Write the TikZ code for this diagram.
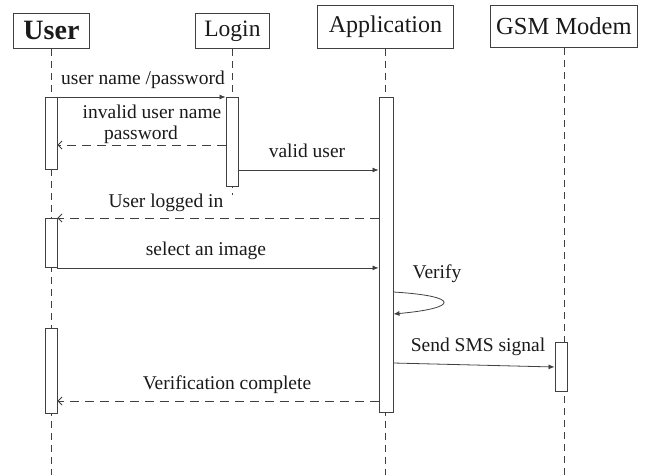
\documentclass[tikz,border=0pt]{standalone}
\usepackage{fontspec}
\setmainfont{Liberation Serif}
\usetikzlibrary{arrows.meta,calc}
\definecolor{ln}{HTML}{404040}
\definecolor{tx}{HTML}{1A1A1A}
\tikzset{
  hdr/.style={draw=ln, line width=0.9pt, fill=white, inner sep=0pt, text=tx, anchor=north west},
  actbox/.style={draw=ln, line width=0.9pt, fill=white, inner sep=0pt, minimum width=12pt, anchor=north},
  lifeline/.style={draw=ln, line width=0.9pt, dash pattern=on 7pt off 5pt},
  msg/.style={draw=ln, line width=0.8pt, -{Latex[length=6pt,width=5pt]}},
  ret/.style={draw=ln, line width=0.8pt, dash pattern=on 9pt off 6pt, -{Straight Barb[length=4pt,width=8pt]}},
  lbl/.style={text=tx, inner sep=0pt, font=\fontsize{19.5}{21}\selectfont},
}
\begin{document}
\begin{tikzpicture}[x=1pt,y=-1pt]
\useasboundingbox (0,0) rectangle (645,475);
% headers
\node[hdr, minimum width=76pt, minimum height=35pt, font=\bfseries\fontsize{28}{30}\selectfont] (user) at (13,13) {User};
\node[hdr, minimum width=74pt, minimum height=35pt, font=\fontsize{23.5}{25}\selectfont] (login) at (195,13) {Login};
\node[hdr, minimum width=136pt, minimum height=43pt, font=\fontsize{24}{26}\selectfont] (app) at (317,5) {Application};
\node[hdr, minimum width=147pt, minimum height=42pt, font=\fontsize{24.5}{26}\selectfont] (gsm) at (490,5) {GSM Modem};
% lifeline ends
\coordinate (uend) at (51,475);
\coordinate (lend) at (232,195);
\coordinate (aend) at (386,475);
\coordinate (gend) at (561,475);
\draw[lifeline] (user.south) -- (user.south |- uend);
\draw[lifeline] (login.south) -- (login.south |- lend);
\draw[lifeline] (app.south) -- (app.south |- aend);
\draw[lifeline] (gsm.south) -- (gsm.south |- gend);
% activation boxes
\node[actbox, minimum height=72pt] (ub1) at (51,97) {};
\node[actbox, minimum height=89pt] (lb) at (232,97) {};
\node[actbox, minimum height=315pt, minimum width=14pt] (ab) at (386,97) {};
\node[actbox, minimum height=49pt] (ub2) at (51,218) {};
\node[actbox, minimum height=85pt] (ub3) at (51,328) {};
\node[actbox, minimum height=49pt] (gb) at (561,342) {};
% messages
\draw[msg] (ub1.north east) -- (lb.north west);
\draw[ret] (lb.west |- 0,145) -- (ub1.east |- 0,145);
\draw[msg] (lb.east |- 0,170) -- (ab.west |- 0,170);
\draw[ret] (ab.west |- ub2.north) -- (ub2.north east);
\draw[msg] (ub2.south east) -- (ab.west |- ub2.south);
\draw[msg] (ab.east |- 0,292) .. controls (460,296) and (460,308) .. (ab.east |- 0,314);
\draw[msg] (ab.east |- 0,363) -- (gb.west |- 0,367);
\draw[ret] (ab.west |- 0,401) -- (ub3.east |- 0,401);
% labels
\node[lbl] (l1) at (143,80) {user name /password};
\node[lbl] (l2a) at (152,112) {invalid user name};
\node[lbl] (l2b) at (141,135) {password};
\node[lbl] (l3) at (307,151) {valid user};
\node[lbl] (l4) at (166,203) {User logged in};
\node[lbl] (l5) at (206,251) {select an image};
\node[lbl] (l6) at (437,274) {Verify};
\node[lbl] (l7) at (478,347) {Send SMS signal};
\node[lbl] (l8) at (227,385) {Verification complete};
\end{tikzpicture}
\end{document}
